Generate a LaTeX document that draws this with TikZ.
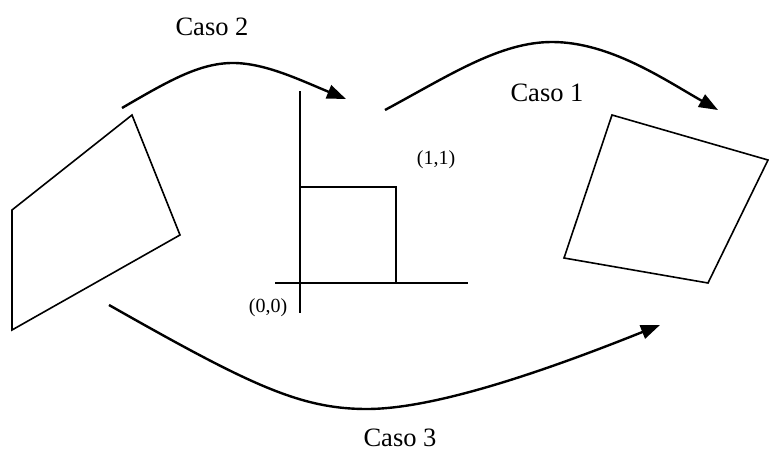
\documentclass[tikz,border=0pt]{standalone}
\usepackage{fontspec}
\setmainfont{Liberation Serif}
\usetikzlibrary{arrows.meta}
\begin{document}
\begin{tikzpicture}[
        x=1pt, y=-1pt,
        quad/.style={draw, line width=1.6pt, line join=miter},
        axis/.style={draw, line width=1.6pt},
        caso/.style={->, line width=2.4pt, >={Triangle[length=19pt, width=14pt]}},
        casotext/.style={font=\fontsize{26.5}{30}\selectfont, inner sep=0pt},
        coord/.style={font=\fontsize{20}{24}\selectfont, inner sep=0pt}
      ]
      \useasboundingbox (0,0) rectangle (769,465);
      % quadrilaterals
      \draw[quad] (132,115) -- (180,235) -- (12,330) -- (12,210) -- cycle;
      \draw[quad] (612,115) -- (768,160) -- (708,283) -- (564,258) -- cycle;
      % axes and unit square
      \coordinate (o) at (300,283);
      \coordinate (ytop) at (300,91);
      \coordinate (ybot) at (300,313);
      \coordinate (xl) at (275,283);
      \coordinate (xr) at (468,283);
      \draw[axis] (ybot) -- (ytop);
      \draw[axis] (xl) -- (xr);
      \draw[axis] (o) rectangle (396,187);
      \node[coord] (p00) at (268,308) {(0,0)};
      \node[coord] (p11) at (436,160) {(1,1)};
      % arrows
      \coordinate (s2) at (122,108);
      \coordinate (m2) at (233,63);
      \coordinate (e2) at (346,99);
      \coordinate (s1) at (385,110);
      \coordinate (m1) at (552,42);
      \coordinate (e1) at (718,110);
      \coordinate (s3) at (109,305);
      \coordinate (m3) at (367,409);
      \coordinate (e3) at (660,325);
      \draw[caso] (s2) .. controls (170,80) and (200,63) .. (m2)
                  .. controls (265,63) and (300,80) .. (e2);
      \draw[caso] (s1) .. controls (450,75) and (500,42) .. (m1)
                  .. controls (610,42) and (665,80) .. (e1);
      \draw[caso] (s3) .. controls (250,385) and (300,409) .. (m3)
                  .. controls (440,409) and (560,365) .. (e3);
      \node[casotext] (c2) at (212,27) {Caso 2};
      \node[casotext] (c1) at (547,93) {Caso 1};
      \node[casotext] (c3) at (400,438) {Caso 3};
    \end{tikzpicture}
\end{document}
